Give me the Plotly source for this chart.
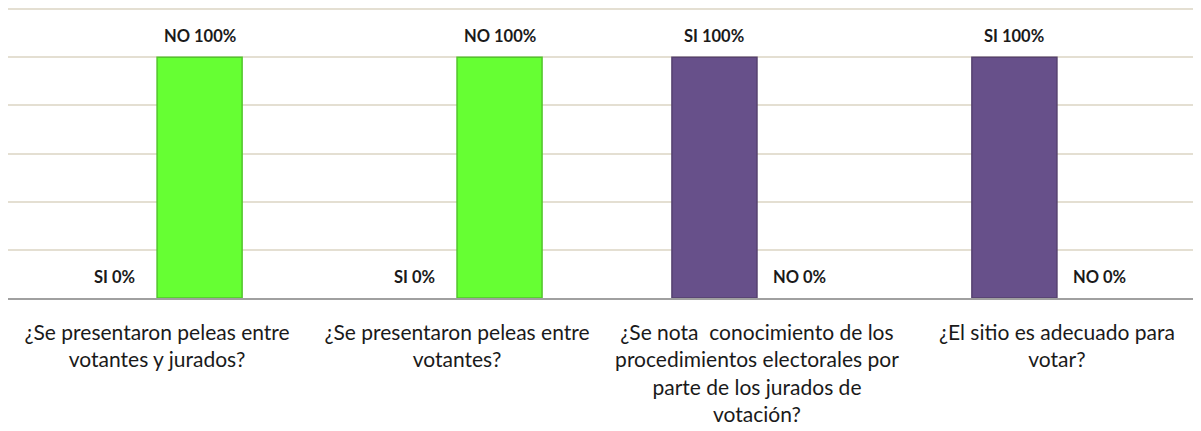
import plotly.graph_objects as go

preguntas = [
    "¿Se presentaron peleas entre<br>votantes y jurados?",
    "¿Se presentaron peleas entre<br>votantes?",
    "¿Se nota  conocimiento de los<br>procedimientos electorales por<br>parte de los jurados de<br>votación?",
    "¿El sitio es adecuado para<br>votar?",
]
si = [0.0, 0.0, 1.0, 1.0]
no = [1.0, 1.0, 0.0, 0.0]

FONT = "Lato"
fig = go.Figure()
fig.add_trace(go.Bar(name="SI", x=preguntas, y=si,
                     marker=dict(color="#67508a",
                                 line=dict(color="#55416f", width=[1.5 if v else 0 for v in si]))))
fig.add_trace(go.Bar(name="NO", x=preguntas, y=no,
                     marker=dict(color="#66ff33",
                                 line=dict(color="#52c52c", width=[1.5 if v else 0 for v in no]))))

# value labels above each bar
for serie, vals, dx in (("SI", si, -43), ("NO", no, 43)):
    for q, v in zip(preguntas, vals):
        fig.add_annotation(x=q, y=v, xshift=dx, yshift=21, showarrow=False,
                           text=f"<b>{serie} {v:.0%}</b>",
                           font=dict(family=FONT, size=16.5, color="#1a1a1a"))

fig.update_layout(
    width=1201, height=431,
    margin=dict(l=0, r=0, t=0, b=141, autoexpand=False),
    paper_bgcolor="white", plot_bgcolor="white",
    barmode="group", bargap=0.433, bargroupgap=0,
    showlegend=False,
    font=dict(family=FONT, size=21, color="#1a1a1a"),
)
fig.update_xaxes(range=[-0.497, 3.507], showline=True, linecolor="#a0a0a0", linewidth=1.5,
                 ticks="outside", ticklen=15, tickcolor="rgba(0,0,0,0)",
                 tickfont=dict(size=21), showgrid=False, automargin=False)
fig.update_yaxes(range=[0, 1.2042], tickvals=[0.2, 0.4, 0.6, 0.8, 1.0, 1.2],
                 showticklabels=False, gridcolor="#e4dfd2",
                 gridwidth=1.5, zeroline=False, showline=False, automargin=False)

fig.write_html("out.html")
